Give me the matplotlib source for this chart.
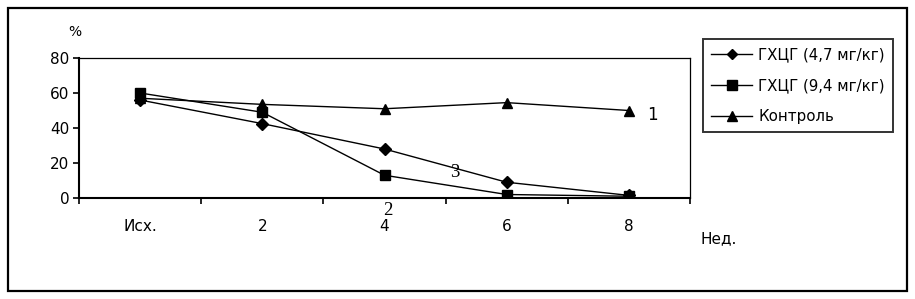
import matplotlib
matplotlib.use("Agg")
import matplotlib.pyplot as plt
from matplotlib.patches import Rectangle

categories = ["Исх.", "2", "4", "6", "8"]
s_low = [56, 42.5, 28, 9, 1.5]      # ГХЦГ (4,7 мг/кг)
s_high = [60, 49, 13, 2, 1]          # ГХЦГ (9,4 мг/кг)
s_ctrl = [57, 53.5, 51, 54.5, 50]    # Контроль
labels = ["ГХЦГ (4,7 мг/кг)", "ГХЦГ (9,4 мг/кг)", "Контроль"]
yticks = [0, 20, 40, 60, 80]

plt.rcParams['font.family'] = ['DejaVu Sans']

W, H = 915, 299
fig = plt.figure(figsize=(W/100, H/100), dpi=100)
fig.patch.set_facecolor('white')

# outer frame
fig.add_artist(Rectangle((8/W, 1-291/H), (907-8)/W, (291-8)/H, transform=fig.transFigure,
                         fill=False, edgecolor='black', linewidth=1.6))

ax = fig.add_axes([79/W, 1-198/H, (690-79)/W, (198-58)/H])
x = list(range(len(categories)))
ax.plot(x, s_low, color='black', lw=1.0, marker='D', ms=6.5, label=labels[0])
ax.plot(x, s_high, color='black', lw=1.0, marker='s', ms=7.8, label=labels[1])
ax.plot(x, s_ctrl, color='black', lw=1.0, marker='^', ms=7.8, label=labels[2])

ax.set_xlim(-0.5, len(categories)-0.5)
ax.set_ylim(0, 80)
ax.set_yticks(yticks)
ax.set_yticklabels([str(v) for v in yticks], fontsize=11)
ax.set_xticks([i-0.5 for i in range(len(categories)+1)])
ax.set_xticklabels([])
ax.set_xticks(x, minor=True)
ax.set_xticklabels(categories, minor=True, fontsize=11)
ax.tick_params(axis='x', which='major', direction='out', length=4, width=1.2)
ax.tick_params(axis='x', which='minor', length=0, pad=15)
ax.tick_params(axis='y', direction='out', length=4, width=1.2, pad=3)
for sp in ['left', 'bottom']:
    ax.spines[sp].set_linewidth(1.5)
for sp in ['top', 'right']:
    ax.spines[sp].set_linewidth(0.9)

ax.text(4.19, 47.4, "1", fontsize=12, ha='center', va='center')
ax.text(2.577, 14.3, "3", fontsize=13.5, ha='center', va='center', family='Liberation Serif')
ax.text(2.03, -6.9, "2", fontsize=13.5, ha='center', va='center', family='Liberation Serif', clip_on=False)

fig.text(75/W, 1-32/H, "%", fontsize=10, ha='center', va='center')
fig.text(700/W, 1-239/H, "Нед.", fontsize=11, ha='left', va='center')

leg = fig.legend(loc='upper left', bbox_to_anchor=(703/W, 1-39/H), bbox_transform=fig.transFigure,
                 fontsize=10.8, frameon=True, fancybox=False, edgecolor='black',
                 handlelength=2.7, handletextpad=0.45, labelspacing=1.05, borderpad=0.55,
                 borderaxespad=0, markerscale=0.85)
leg.get_frame().set_linewidth(1.4)

fig.savefig("out.png", dpi=100)
